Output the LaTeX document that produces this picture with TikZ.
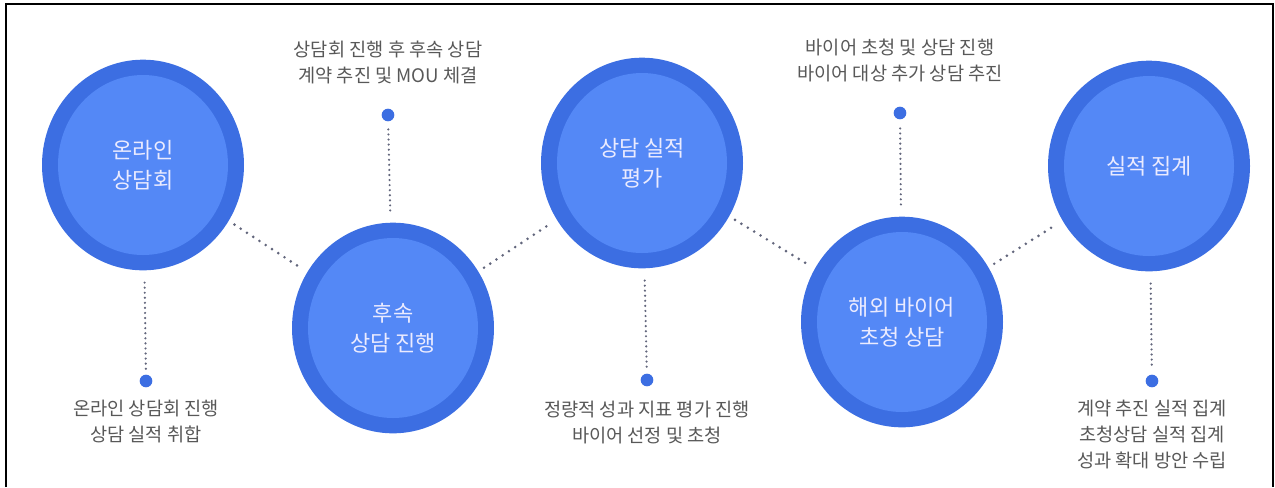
\documentclass[tikz,border=0pt]{standalone}
\usepackage{fontspec}
\setmainfont{Noto Sans CJK KR}
\usepackage{tikz}
\usetikzlibrary{positioning,shapes.geometric}
\definecolor{ringblue}{RGB}{60,110,226}
\definecolor{coreblue}{RGB}{84,136,246}
\definecolor{dotgray}{RGB}{98,102,124}
\definecolor{notegray}{RGB}{88,88,88}
\tikzset{
  stage/.style={ellipse, fill=ringblue, minimum width=151.5pt, minimum height=158pt, inner sep=0pt,
                align=center, text=white!92!blue, font=\fontsize{16.5}{22.5}\selectfont,
                path picture={\fill[coreblue] (path picture bounding box.center) ellipse (63.75pt and 67.5pt);}},
  pin/.style={circle, fill=ringblue, minimum size=9.5pt, inner sep=0pt},
  note/.style={align=center, text=notegray, font=\fontsize{14}{19.5}\selectfont},
  link/.style={dotgray, line width=2.2pt, line cap=round, dash pattern=on 0pt off 5.6pt,
               shorten <=5pt, shorten >=5pt},
  stem/.style={dotgray, line width=1.8pt, line cap=round, dash pattern=on 0pt off 3.8pt,
               shorten <=9pt, shorten >=4pt},
}
\begin{document}
\begin{tikzpicture}[x=0.75pt,y=-0.75pt]
\useasboundingbox (0,0) rectangle (1275,487);
\draw[line width=1.2pt] (6,487) -- (6,4) -- (1273,4) -- (1273,487);

%Nodes
\node[stage] (stage1) at (143,165) {온라인\\상담회};
\node[stage] (stage2) at (393,328) {후속\\상담 진행};
\node[stage] (stage3) at (642,163) {상담 실적\\평가};
\node[stage] (stage4) at (902,322) {해외 바이어\\초청 상담};
\node[stage] (stage5) at (1149,166) {실적 집계};

\node[pin] (pin1) at (146,381) {};
\node[pin] (pin2) at (388,115) {};
\node[pin] (pin3) at (647,380) {};
\node[pin] (pin4) at (900,113) {};
\node[pin] (pin5) at (1152,381) {};

\node[note, below=6pt of pin1] (note1) {온라인 상담회 진행\\상담 실적 취합};
\node[note, above=15pt of pin2] (note2) {상담회 진행 후 후속 상담\\계약 추진 및 MOU 체결};
\node[note, below=7pt of pin3] (note3) {정량적 성과 지표 평가 진행\\바이어 선정 및 초청};
\node[note, above=15pt of pin4] (note4) {바이어 초청 및 상담 진행\\바이어 대상 추가 상담 추진};
\node[note, below=6pt of pin5] (note5) {계약 추진 실적 집계\\초청상담 실적 집계\\성과 확대 방안 수립};

%Lines
\draw[link] (stage1) -- (stage2);
\draw[link] (stage2) -- (stage3);
\draw[link] (stage3) -- (stage4);
\draw[link] (stage4) -- (stage5);

\draw[stem] (stage1) -- (pin1);
\draw[stem] (stage2) -- (pin2);
\draw[stem] (stage3) -- (pin3);
\draw[stem] (stage4) -- (pin4);
\draw[stem] (stage5) -- (pin5);
\end{tikzpicture}
\end{document}
